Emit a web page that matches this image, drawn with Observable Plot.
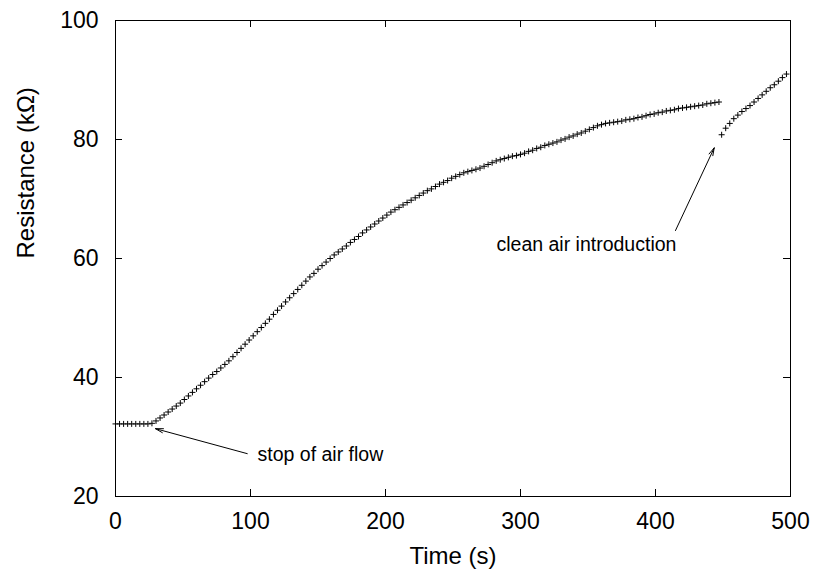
<!DOCTYPE html>
<html><head><meta charset="utf-8">
<script src="https://cdn.jsdelivr.net/npm/d3@7"></script>
<script src="https://cdn.jsdelivr.net/npm/@observablehq/plot@0.6"></script>
<style>body{margin:0;background:#fff;} svg{display:block;}</style>
</head><body><div id="chart"></div>
<script>
// Time (s) and resistance (kOhm) before clean air introduction
const timeA = [0,3,6,9,12,15,18,21,24,27,30,33,36,39,42,45,48,51,54,57,60,63,66,69,72,75,78,81,84,87,90,93,96,99,102,105,108,111,114,117,120,123,126,129,132,135,138,141,144,147,150,153,156,159,162,165,168,171,174,177,180,183,186,189,192,195,198,201,204,207,210,213,216,219,222,225,228,231,234,237,240,243,246,249,252,255,258,261,264,267,270,273,276,279,282,285,288,291,294,297,300,303,306,309,312,315,318,321,324,327,330,333,336,339,342,345,348,351,354,357,360,363,366,369,372,375,378,381,384,387,390,393,396,399,402,405,408,411,414,417,420,423,426,429,432,435,438,441,444,447];
const resA = [32.2,32.2,32.2,32.2,32.2,32.2,32.2,32.2,32.2,
32.3,32.7,33.2,33.7,34.2,34.7,35.2,35.7,36.3,36.9,
37.5,38.1,38.7,39.3,39.9,40.5,41.0,41.6,42.2,42.8,
43.5,44.2,44.9,45.6,46.3,47.0,47.7,48.4,49.1,49.8,
50.6,51.3,52.0,52.7,53.4,54.1,54.8,55.5,56.2,56.9,
57.5,58.2,58.8,59.4,60.0,60.6,61.1,61.6,62.1,62.7,
63.2,63.7,64.3,64.8,65.3,65.8,66.3,66.8,67.3,67.8,
68.2,68.6,69.0,69.4,69.8,70.2,70.6,71.0,71.4,71.7,
72.1,72.5,72.8,73.1,73.5,73.8,74.1,74.4,74.6,74.8,
75.0,75.2,75.5,75.8,76.1,76.4,76.6,76.8,77.0,77.2,
77.3,77.5,77.7,78.0,78.2,78.5,78.7,79.0,79.2,79.4,
79.6,79.9,80.1,80.4,80.6,80.9,81.1,81.4,81.7,82.0,
82.3,82.5,82.7,82.8,82.9,83.0,83.1,83.3,83.4,83.5,
83.7,83.8,84.0,84.2,84.3,84.5,84.6,84.8,84.9,85.0,
85.2,85.3,85.4,85.5,85.6,85.7,85.8,86.0,86.1,86.2,
86.3];
// After clean air introduction
const timeB = [449,452,455,458,461,464,467,470,473,476,479,482,485,488,491,494,497];
const resB = [80.8,81.9,82.7,83.5,84.1,84.7,85.2,85.7,86.3,86.9,87.5,88.1,88.7,89.2,89.8,90.4,91.0];

const xTicks = [0,100,200,300,400,500];
const yTicks = [20,40,60,80,100];
const xLabel = "Time (s)";
const yLabel = "Resistance (kΩ)";

const noteText = ["stop of air flow", "clean air introduction"];
const noteX = [105.2, 282.2];
const noteY = [27.1, 62.3];

const arrowX1 = [97.6, 414.8];
const arrowY1 = [27.2, 64.7];
const arrowX2 = [29.6, 443.5];
const arrowY2 = [31.4, 78.6];

const pointsA = timeA.map((t, i) => ({t, r: resA[i]}));
const pointsB = timeB.map((t, i) => ({t, r: resB[i]}));

const plusSymbol = {
  draw(ctx, size) {
    const r = Math.sqrt(size / Math.PI);
    ctx.moveTo(-r, 0); ctx.lineTo(r, 0);
    ctx.moveTo(0, -r); ctx.lineTo(0, r);
  }
};

const W = 813, H = 573, mL = 115, mR = 23, mT = 20, mB = 77;
const innerW = W - mL - mR, innerH = H - mT - mB, tick = 7;

const chart = Plot.plot({
  width: W, height: H,
  marginLeft: mL, marginRight: mR, marginTop: mT, marginBottom: mB,
  x: {domain: [0, 500], label: null},
  y: {domain: [20, 100], label: null},
  style: {fontFamily: "'Liberation Sans', Arial, sans-serif", background: "white", color: "black"},
  marks: [
    Plot.frame({stroke: "black", strokeWidth: 1}),
    Plot.tickX(xTicks, {x: d => d, insetTop: innerH - tick, stroke: "black"}),
    Plot.tickX(xTicks, {x: d => d, insetBottom: innerH - tick, stroke: "black"}),
    Plot.tickY(yTicks, {y: d => d, insetRight: innerW - tick, stroke: "black"}),
    Plot.tickY(yTicks, {y: d => d, insetLeft: innerW - tick, stroke: "black"}),
    Plot.axisX(xTicks, {tickSize: 0, tickPadding: 16, fontSize: 23, label: null}),
    Plot.axisY(yTicks, {tickSize: 0, tickPadding: 17, fontSize: 23, label: null}),
    Plot.text([xLabel], {frameAnchor: "bottom", lineAnchor: "bottom", dy: 67, fontSize: 24, text: d => d}),
    Plot.text([yLabel], {frameAnchor: "left", rotate: -90, lineAnchor: "bottom", dx: -82, fontSize: 24, text: d => d}),
    Plot.dot(pointsA, {x: "t", y: "r", symbol: plusSymbol, r: 3, stroke: "black", fill: "none", strokeWidth: 1}),
    Plot.dot(pointsB, {x: "t", y: "r", symbol: plusSymbol, r: 3, stroke: "black", fill: "none", strokeWidth: 1}),
    Plot.arrow(arrowX1, {x1: d => d, y1: (d, i) => arrowY1[i], x2: (d, i) => arrowX2[i], y2: (d, i) => arrowY2[i], stroke: "black", strokeWidth: 1, headLength: 12, headAngle: 30}),
    Plot.text(noteText, {x: (d, i) => noteX[i], y: (d, i) => noteY[i], text: d => d, textAnchor: "start", fontSize: 19.5, fill: "black"})
  ]
});
document.getElementById("chart").appendChild(chart);
</script>
</body></html>
